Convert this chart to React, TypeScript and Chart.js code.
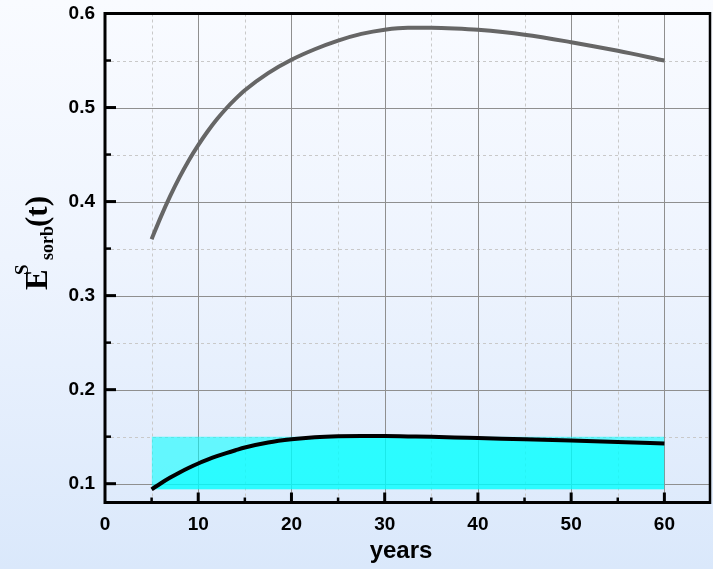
import React, { useEffect, useRef } from "react";
import { Chart, registerables } from "chart.js";

Chart.register(...registerables);

// ---- data ----
const xTicks = [0, 10, 20, 30, 40, 50, 60];
const xMinorTicks = [5, 15, 25, 35, 45, 55];
const yTicks = [0.1, 0.2, 0.3, 0.4, 0.5, 0.6];
const yMinorTicks = [0.15, 0.25, 0.35, 0.45, 0.55];

const years = [5, 6, 7, 8, 9, 10, 11, 12, 13, 14, 15, 17.5, 20, 22.5, 25, 27.5, 30, 32.5, 35, 37.5, 40, 45, 50, 55, 60];
const upperCurve = [0.36, 0.384, 0.406, 0.426, 0.444, 0.46, 0.4745, 0.4875, 0.499, 0.5092, 0.5184, 0.5366, 0.5508, 0.562, 0.5712, 0.5783, 0.5828, 0.5849, 0.5848, 0.584, 0.5826, 0.5775, 0.5695, 0.5603, 0.55];
const lowerCurve = [0.094, 0.1005, 0.1065, 0.112, 0.117, 0.1215, 0.1255, 0.1292, 0.1325, 0.1356, 0.1385, 0.1438, 0.1472, 0.1494, 0.1505, 0.1508, 0.1506, 0.1502, 0.1498, 0.1492, 0.1485, 0.1472, 0.1458, 0.1443, 0.1427];

const bandYears = [5, 60];
const bandTop = [0.15, 0.15];
const bandBottom = 0.094;

const X_MIN = 0;
const X_MAX = 65;
const Y_MIN = 0.08;
const Y_MAX = 0.6;

const SANS = '"Liberation Sans", Arial, sans-serif';
const SERIF = '"Liberation Serif", "Times New Roman", serif';

const framePlugin = {
  id: "frame",
  beforeDatasetsDraw(chart: any) {
    const { ctx, chartArea, scales } = chart;
    const { left, right, top, bottom } = chartArea;
    const x = scales.x;
    const y = scales.y;
    ctx.save();
    ctx.lineWidth = 1;
    ctx.strokeStyle = "#c9c9c9";
    ctx.setLineDash([3, 3]);
    for (const v of xMinorTicks) {
      const px = Math.round(x.getPixelForValue(v)) + 0.5;
      ctx.beginPath();
      ctx.moveTo(px, top);
      ctx.lineTo(px, bottom);
      ctx.stroke();
    }
    for (const v of yMinorTicks) {
      const py = Math.round(y.getPixelForValue(v)) + 0.5;
      ctx.beginPath();
      ctx.moveTo(left, py);
      ctx.lineTo(right, py);
      ctx.stroke();
    }
    ctx.setLineDash([]);
    ctx.strokeStyle = "#8f8f8f";
    for (const v of xTicks) {
      if (v <= X_MIN) continue;
      const px = Math.round(x.getPixelForValue(v)) + 0.5;
      ctx.beginPath();
      ctx.moveTo(px, top);
      ctx.lineTo(px, bottom);
      ctx.stroke();
    }
    for (const v of yTicks) {
      if (v >= Y_MAX) continue;
      const py = Math.round(y.getPixelForValue(v)) + 0.5;
      ctx.beginPath();
      ctx.moveTo(left, py);
      ctx.lineTo(right, py);
      ctx.stroke();
    }
    ctx.restore();
  },
  afterDatasetsDraw(chart: any) {
    const { ctx, chartArea, scales } = chart;
    const { left, right, top, bottom } = chartArea;
    const x = scales.x;
    const y = scales.y;
    ctx.save();
    ctx.strokeStyle = "#000";
    ctx.lineCap = "butt";
    ctx.lineWidth = 3;
    ctx.beginPath();
    ctx.moveTo(left, top);
    ctx.lineTo(right, top);
    ctx.stroke();
    ctx.beginPath();
    ctx.moveTo(left, top - 1.5);
    ctx.lineTo(left, bottom + 1.5);
    ctx.stroke();
    ctx.beginPath();
    ctx.moveTo(left, bottom);
    ctx.lineTo(right, bottom);
    ctx.stroke();
    ctx.lineWidth = 2.5;
    ctx.beginPath();
    ctx.moveTo(right - 1, top - 1.5);
    ctx.lineTo(right - 1, bottom + 1.5);
    ctx.stroke();
    ctx.lineWidth = 3;
    for (const v of yTicks) {
      const py = y.getPixelForValue(v);
      ctx.beginPath();
      ctx.moveTo(left, py);
      ctx.lineTo(left + 11, py);
      ctx.stroke();
    }
    for (const v of xTicks) {
      if (v <= X_MIN) continue;
      const px = x.getPixelForValue(v);
      ctx.beginPath();
      ctx.moveTo(px, bottom);
      ctx.lineTo(px, bottom - 10);
      ctx.stroke();
    }
    ctx.lineWidth = 2.5;
    for (const v of yMinorTicks) {
      const py = y.getPixelForValue(v);
      ctx.beginPath();
      ctx.moveTo(left, py);
      ctx.lineTo(left + 6, py);
      ctx.stroke();
    }
    for (const v of xMinorTicks) {
      const px = x.getPixelForValue(v);
      ctx.beginPath();
      ctx.moveTo(px, bottom);
      ctx.lineTo(px, bottom - 5);
      ctx.stroke();
    }
    ctx.restore();
  },
  afterDraw(chart: any) {
    const { ctx } = chart;
    ctx.save();
    ctx.fillStyle = "#000";
    ctx.font = `bold 24px ${SANS}`;
    ctx.textAlign = "center";
    ctx.textBaseline = "alphabetic";
    ctx.fillText("years", 401, 558);
    ctx.translate(47, 290);
    ctx.rotate(-Math.PI / 2);
    ctx.textAlign = "left";
    ctx.font = `bold 31px ${SERIF}`;
    ctx.fillText("E", 0, 0);
    ctx.font = `bold 19px ${SERIF}`;
    ctx.fillText("S", 15, -19);
    ctx.font = `bold 18px ${SERIF}`;
    ctx.fillText("sorb", 30, 6);
    ctx.font = `bold 31px ${SERIF}`;
    ctx.fillText("(t)", 63, 0);
    ctx.restore();
  },
};

export default function App() {
  const canvasRef = useRef<HTMLCanvasElement | null>(null);

  useEffect(() => {
    const canvas = canvasRef.current;
    if (!canvas) return;
    const chart = new Chart(canvas, {
      type: "line",
      data: {
        datasets: [
          {
            label: "lower",
            data: years.map((t, i) => ({ x: t, y: lowerCurve[i] })),
            borderColor: "#000000",
            borderWidth: 4,
            pointRadius: 0,
            cubicInterpolationMode: "monotone",
            fill: { value: bandBottom },
            backgroundColor: "rgba(0,255,255,0.56)",
          },
          {
            label: "band",
            data: bandYears.map((t, i) => ({ x: t, y: bandTop[i] })),
            borderColor: "rgba(0,0,0,0)",
            borderWidth: 0,
            pointRadius: 0,
            fill: { value: bandBottom },
            backgroundColor: "rgba(0,255,255,0.56)",
          },
          {
            label: "upper",
            data: years.map((t, i) => ({ x: t, y: upperCurve[i] })),
            borderColor: "#666666",
            borderWidth: 4,
            pointRadius: 0,
            cubicInterpolationMode: "monotone",
            fill: false,
          },
        ],
      } as any,
      options: {
        responsive: false,
        animation: false,
        layout: { padding: { top: 13.5, right: 2, left: 0, bottom: 0 } },
        plugins: {
          legend: { display: false },
          tooltip: { enabled: false },
        },
        scales: {
          x: {
            type: "linear",
            min: X_MIN,
            max: X_MAX,
            grid: { display: false, drawTicks: false },
            border: { display: false },
            ticks: {
              autoSkip: false,
              maxRotation: 0,
              padding: 11,
              color: "#000",
              font: { family: SANS, size: 19, weight: "bold" },
              callback: (v: any) => String(v),
            },
            afterBuildTicks: (s: any) => {
              s.ticks = xTicks.map((v) => ({ value: v }));
            },
            afterFit: (s: any) => {
              s.height = 66.5;
              s.paddingLeft = 0;
              s.paddingRight = 0;
            },
          },
          y: {
            type: "linear",
            min: Y_MIN,
            max: Y_MAX,
            grid: { display: false, drawTicks: false },
            border: { display: false },
            ticks: {
              autoSkip: false,
              padding: 10,
              color: "#000",
              font: { family: SANS, size: 19, weight: "bold" },
              callback: (v: any) => Number(v).toFixed(1),
            },
            afterBuildTicks: (s: any) => {
              s.ticks = yTicks.map((v) => ({ value: v }));
            },
            afterFit: (s: any) => {
              s.width = 105;
              s.paddingTop = 0;
              s.paddingBottom = 0;
            },
          },
        },
      } as any,
      plugins: [framePlugin],
    });
    return () => chart.destroy();
  }, []);

  return (
    <div
      style={{
        position: "fixed",
        left: 0,
        top: 0,
        width: 713,
        height: 569,
        background: "linear-gradient(to bottom, #f9fbff 0%, #eef4fe 45%, #dae8fb 100%)",
      }}
    >
      <canvas ref={canvasRef} width={713} height={569} style={{ display: "block" }} />
    </div>
  );
}
